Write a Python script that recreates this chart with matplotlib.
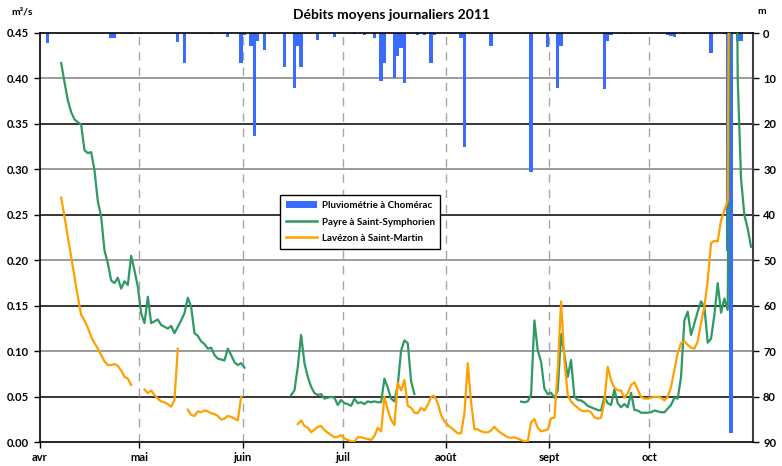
import numpy as np
import matplotlib
matplotlib.use("Agg")
import matplotlib.pyplot as plt
from matplotlib.lines import Line2D
from matplotlib.patches import Patch

plt.rcParams['font.family'] = ['Lato', 'DejaVu Sans']
plt.rcParams['font.weight'] = 'bold'

# ---------------- data (day index 0 = 1 April 2011) ----------------
n_days = 214
month_starts = [0, 30, 61, 91, 122, 153, 183]
month_labels = ['avr', 'mai', 'juin', 'juil', 'août', 'sept', 'oct']

rain_days = [2, 21, 22, 27, 30, 41, 43, 51, 56, 60, 61, 63, 64, 65, 67, 69, 73, 76, 77, 78,
             83, 88, 94, 97, 100, 102, 103, 106, 107, 108, 109, 113, 115, 117, 118, 126, 127,
             135, 147, 152, 155, 156, 169, 170, 171, 175, 177, 188, 189, 190, 193, 199, 201,
             205, 206, 207, 209, 210, 213]
rain_mm = [2.1, 1.0, 1.0, 0.2, 0.2, 2.0, 6.7, 0.2, 0.9, 6.7, 0.5, 2.8, 22.6, 1.7, 3.7, 0.2,
           7.5, 12.2, 2.8, 7.5, 1.5, 0.9, 0.2, 0.4, 1.2, 10.5, 6.7, 9.9, 5.0, 3.3, 11.0, 0.4,
           0.4, 6.6, 0.4, 1.2, 25.0, 2.8, 30.5, 3.0, 12.0, 2.8, 12.4, 1.7, 0.4, 0.3, 0.3, 0.5,
           0.6, 0.9, 0.2, 0.2, 4.4, 0.2, 48.0, 88.0, 1.8, 1.7, 0.2]

# Payre à Saint-Symphorien (m3/s): (first day, values)
payre_seg1_start = 6
payre_seg1 = [0.417, 0.396, 0.376, 0.363, 0.355, 0.352, 0.349, 0.321, 0.318, 0.319, 0.299,
              0.265, 0.248, 0.211, 0.197, 0.178, 0.175, 0.181, 0.169, 0.177, 0.173, 0.205,
              0.189, 0.171, 0.142, 0.131, 0.160, 0.131, 0.133, 0.135, 0.129, 0.127, 0.125,
              0.128, 0.120, 0.127, 0.134, 0.142, 0.159, 0.149, 0.120, 0.117, 0.111, 0.108,
              0.103, 0.104, 0.096, 0.092, 0.091, 0.090, 0.103, 0.096, 0.088, 0.085, 0.087,
              0.082]
payre_seg2_start = 75
payre_seg2 = [0.052, 0.057, 0.083, 0.118, 0.087, 0.072, 0.061, 0.054, 0.052, 0.053, 0.048,
              0.049, 0.050, 0.049, 0.041, 0.0465, 0.043, 0.042, 0.040, 0.048, 0.043, 0.044,
              0.042, 0.045, 0.044, 0.045, 0.044, 0.044, 0.070, 0.060, 0.048, 0.045, 0.063,
              0.101, 0.112, 0.109, 0.067, 0.053]
payre_seg3_start = 144
payre_seg3 = [0.0447, 0.044, 0.045, 0.052, 0.134, 0.101, 0.0886, 0.059, 0.053, 0.0545,
              0.049, 0.057, 0.119, 0.096, 0.072, 0.0905, 0.050, 0.0465, 0.046, 0.0436,
              0.040, 0.0385, 0.037, 0.0355, 0.035, 0.050, 0.043, 0.041, 0.058, 0.043,
              0.0385, 0.042, 0.0385, 0.0545, 0.0355, 0.035, 0.0325, 0.0325, 0.0325, 0.033,
              0.035, 0.034, 0.033, 0.033, 0.037, 0.041, 0.049, 0.048, 0.072, 0.134, 0.1436,
              0.118, 0.131, 0.1436, 0.155, 0.149, 0.1095, 0.114, 0.140, 0.175, 0.1425, 0.158,
              0.1455, 0.70, 0.90, 0.40, 0.29, 0.25, 0.235, 0.215]

# Lavézon à Saint-Martin (m3/s)
lav_seg1_start = 6
lav_seg1 = [0.269, 0.248, 0.226, 0.204, 0.182, 0.160, 0.140, 0.134, 0.126, 0.116, 0.109,
            0.103, 0.096, 0.089, 0.085, 0.085, 0.086, 0.084, 0.079, 0.072, 0.070, 0.063]
lav_seg2_start = 31
lav_seg2 = [0.058, 0.054, 0.057, 0.052, 0.048, 0.045, 0.044, 0.042, 0.039, 0.0465, 0.103]
lav_seg3_start = 44
lav_seg3 = [0.036, 0.030, 0.029, 0.034, 0.033, 0.035, 0.034, 0.032, 0.031, 0.029, 0.025,
            0.026, 0.029, 0.028, 0.026, 0.024, 0.050]
lav_seg4_start = 77
lav_seg4 = [0.020, 0.024, 0.018, 0.016, 0.011, 0.014, 0.017, 0.018, 0.0135, 0.0105, 0.008,
            0.0055, 0.006, 0.008, 0.0044, 0.0026, 0.001, 0.001, 0.0055, 0.0055, 0.0044,
            0.0037, 0.0026, 0.007, 0.016, 0.012, 0.050, 0.0355, 0.0245, 0.019, 0.0655,
            0.057, 0.0685, 0.040, 0.038, 0.0325, 0.032, 0.038, 0.035, 0.041, 0.050, 0.051,
            0.043, 0.030, 0.023, 0.019, 0.016, 0.013, 0.0099, 0.0099, 0.032, 0.087, 0.044,
            0.0143, 0.0143, 0.012, 0.011, 0.011, 0.013, 0.017, 0.013, 0.010, 0.008, 0.0055,
            0.005, 0.0055, 0.004, 0.0026, 0.001, 0.001, 0.022, 0.0256, 0.016, 0.012, 0.013,
            0.014, 0.0264, 0.027, 0.080, 0.155, 0.090, 0.052, 0.045, 0.041, 0.038, 0.035,
            0.034, 0.035, 0.033, 0.0275, 0.026, 0.027, 0.045, 0.083, 0.068, 0.060, 0.057,
            0.057, 0.049, 0.054, 0.063, 0.066, 0.058, 0.050, 0.048, 0.048, 0.049, 0.050,
            0.050, 0.049, 0.046, 0.050, 0.061, 0.0795, 0.098, 0.109, 0.111, 0.107, 0.104,
            0.103, 0.111, 0.131, 0.149, 0.178, 0.219, 0.2216, 0.221, 0.244, 0.255, 0.266,
            1.0]


def build(segments):
    arr = np.full(n_days, np.nan)
    for start, vals in segments:
        arr[start:start + len(vals)] = vals
    return arr


payre = build([(payre_seg1_start, payre_seg1), (payre_seg2_start, payre_seg2),
               (payre_seg3_start, payre_seg3)])
lavezon = build([(lav_seg1_start, lav_seg1), (lav_seg2_start, lav_seg2),
                 (lav_seg3_start, lav_seg3), (lav_seg4_start, lav_seg4)])
days = np.arange(n_days) + 0.5

blue = '#3A6BFF'
green = '#2E9962'
orange = '#FFA000'

fig = plt.figure(figsize=(7.82, 4.66), dpi=100)
ax = fig.add_axes([39.5 / 782, (466 - 442.3) / 466, (752.7 - 39.5) / 782, 409.3 / 466])
ax2 = ax.twinx()
ax.set_zorder(ax2.get_zorder() + 1)
ax.patch.set_visible(False)

# right axis: rain, bars hanging from the top
ax2.set_ylim(90, 0)
for v in range(10, 90, 10):
    col = '#000000' if (v // 10) % 2 == 0 else '#808080'
    ax2.axhline(v, color=col, lw=1.1, zorder=0)
for m in month_starts[1:]:
    ax2.axvline(m, color='#A6A6A6', lw=1.0, ls=(0, (6, 5)), zorder=0.5)
ax2.bar(np.array(rain_days) + 0.5, rain_mm, width=1.0, color=blue, zorder=2, linewidth=0)
ax2.set_yticks(range(0, 91, 10))
ax2.tick_params(axis='y', labelsize=8, length=4, width=1, colors='#000000')
ax2.spines['right'].set_color('#404040')
ax2.spines['right'].set_linewidth(1.5)
for sp in ('left', 'top', 'bottom'):
    ax2.spines[sp].set_visible(False)

# left axis: discharges
ax.plot(days, payre, color=green, lw=1.6, zorder=3)
ax.plot(days, lavezon, color=orange, lw=1.6, zorder=3)
ax.set_xlim(0, n_days)
ax.set_ylim(0, 0.45)
ax.set_yticks(np.arange(0, 0.451, 0.05))
ax.set_yticklabels([f'{v:.2f}' for v in np.arange(0, 0.451, 0.05)])
ax.set_xticks(month_starts)
ax.set_xticklabels(month_labels)
ax.tick_params(axis='both', labelsize=8, length=4, width=1)
ax.tick_params(axis='x', pad=3)
for sp in ('left', 'bottom', 'top'):
    ax.spines[sp].set_color('#000000')
    ax.spines[sp].set_linewidth(1.2)
ax.spines['right'].set_visible(False)

fig.text(391.5 / 782, 1 - 15 / 466, 'Débits moyens journaliers 2011', ha='center', va='center',
         fontsize=10, fontweight='bold')
fig.text(22 / 782, 1 - 12 / 466, 'm³/s', ha='center', va='center', fontsize=7.5, fontweight='bold')
fig.text(762 / 782, 1 - 12 / 466, 'm', ha='center', va='center', fontsize=7.5, fontweight='bold')

handles = [Patch(facecolor=blue, edgecolor='none'),
           Line2D([], [], color=green, lw=1.8),
           Line2D([], [], color=orange, lw=1.8)]
labels = ['Pluviométrie à Chomérac', 'Payre à Saint-Symphorien', 'Lavézon à Saint-Martin']
leg = ax.legend(handles, labels, loc='upper left', bbox_to_anchor=(0.33, 0.615),
                fontsize=7, frameon=True, fancybox=False, framealpha=1, edgecolor='#000000',
                handlelength=3.2, handleheight=0.7, borderpad=0.6, labelspacing=0.75,
                handletextpad=0.5)
leg.get_frame().set_linewidth(1.0)
leg.set_zorder(10)

fig.savefig('out.png', dpi=100)
